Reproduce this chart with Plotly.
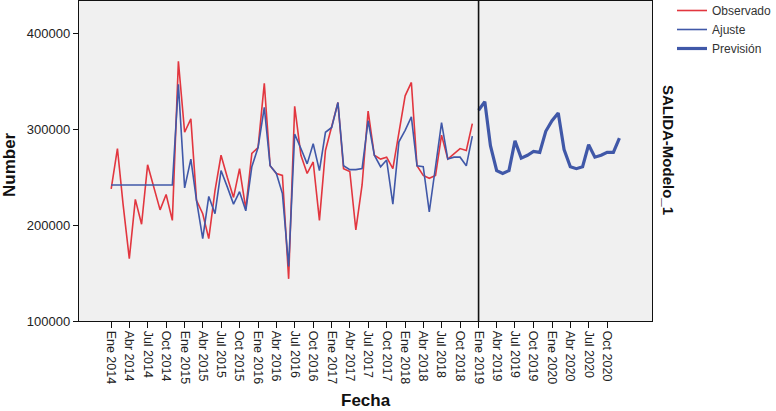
import plotly.graph_objects as go
import pandas as pd

# ---- data ----
obs_start = "2014-01-01"
fc_start = "2019-01-01"
observado = [238000, 280000, 222000, 165000, 227000, 201000, 263000, 240000, 216000, 232000, 205000, 371000,
             297000, 311000, 226000, 212000, 186000, 236000, 273000, 250000, 229000, 259000, 217000, 275000,
             281000, 348000, 262000, 254000, 252000, 144000, 324000, 273000, 254000, 266000, 205000, 278000,
             302000, 328000, 259000, 256000, 195000, 242000, 319000, 273000, 269000, 271000, 259000, 295000,
             335000, 349000, 262000, 252000, 249000, 252000, 294000, 269000, 275000, 280000, 278000, 306000]
ajuste = [242000, 242000, 242000, 242000, 242000, 242000, 242000, 242000, 242000, 242000, 242000, 347000,
          239000, 269000, 226000, 186000, 230000, 212000, 257000, 240000, 222000, 235000, 215000, 261000,
          281000, 323000, 262000, 254000, 233000, 157000, 295000, 280000, 264000, 285000, 257000, 297000,
          302000, 328000, 262000, 258000, 258000, 259000, 309000, 273000, 261000, 268000, 222000, 287000,
          299000, 313000, 262000, 261000, 214000, 261000, 307000, 269000, 271000, 271000, 262000, 293000]
prevision = [320000, 329000, 283000, 257000, 254000, 257000, 288000, 270000, 273000, 277000, 276000, 298000,
             309000, 317000, 279000, 261000, 259000, 261000, 284000, 271000, 273000, 276000, 276000, 291000]
month_names = ["Ene", "Feb", "Mar", "Abr", "May", "Jun", "Jul", "Ago", "Sep", "Oct", "Nov", "Dic"]
y_ticks = [100000, 200000, 300000, 400000]

obs_dates = pd.date_range(obs_start, periods=len(observado), freq="MS")
fc_dates = pd.date_range(fc_start, periods=len(prevision), freq="MS")
all_dates = obs_dates.append(fc_dates)
tick_dates = [d for d in all_dates if d.month in (1, 4, 7, 10)]
tick_text = [f"{month_names[d.month - 1]} {d.year}" for d in tick_dates]

RED = "#E2363F"
BLUE = "#4058A8"
FONT = "Liberation Sans, Arial, sans-serif"

fig = go.Figure()
fig.add_trace(go.Scatter(x=obs_dates, y=observado, mode="lines", name="Observado",
                         line=dict(color=RED, width=1.6)))
fig.add_trace(go.Scatter(x=obs_dates, y=ajuste, mode="lines", name="Ajuste",
                         line=dict(color=BLUE, width=1.6)))
fig.add_trace(go.Scatter(x=fc_dates, y=prevision, mode="lines", name="Previsión",
                         line=dict(color=BLUE, width=3.2)))

# reference line at forecast start
fig.add_shape(type="line", xref="x", yref="paper", x0=fc_dates[0], x1=fc_dates[0], y0=0, y1=1,
              line=dict(color="#111111", width=1.6))

x0 = all_dates[0] - pd.DateOffset(days=160)
x1 = all_dates[-1] + pd.DateOffset(days=162)

fig.update_xaxes(range=[x0, x1], tickvals=tick_dates, ticktext=tick_text, tickangle=90,
                 ticks="outside", ticklen=6, tickcolor="#111", showgrid=False, zeroline=False,
                 showline=True, linecolor="#111", linewidth=1.3, mirror=True, automargin=False,
                 tickfont=dict(family=FONT, size=12.5, color="#222"))
fig.update_yaxes(range=[100000, 434000], tickvals=y_ticks, ticktext=[str(v) for v in y_ticks],
                 ticks="outside", ticklen=5, tickcolor="#111", showgrid=False, zeroline=False,
                 showline=True, linecolor="#111", linewidth=1.3, mirror=True, automargin=False,
                 tickfont=dict(family=FONT, size=13, color="#222"))

L, R, T, B = 79, 124, 1, 90
W, H = 776, 411
pw, ph = W - L - R, H - T - B

def px(x):
    return (x - L) / pw

def py(y):
    return (H - B - y) / ph

fig.add_annotation(text="<b>Number</b>", x=px(9), y=py(165), xref="paper", yref="paper",
                   xanchor="center", yanchor="middle",
                   textangle=-90, showarrow=False, font=dict(family=FONT, size=17, color="#111"))
fig.add_annotation(text="<b>Fecha</b>", x=px(366), y=py(400), xref="paper", yref="paper",
                   xanchor="center", yanchor="middle",
                   showarrow=False, font=dict(family=FONT, size=17, color="#111"))
fig.add_annotation(text="<b>SALIDA-Modelo_1</b>", x=px(669), y=py(150), xref="paper", yref="paper",
                   xanchor="center", yanchor="middle",
                   textangle=90, showarrow=False, font=dict(family=FONT, size=15, color="#111"))

fig.update_layout(
    width=W, height=H,
    margin=dict(l=L, r=R, t=T, b=B, autoexpand=False),
    paper_bgcolor="white", plot_bgcolor="#F0F0F0",
    showlegend=True,
    legend=dict(x=px(672), y=py(-4), xanchor="left", yanchor="top", bgcolor="rgba(0,0,0,0)",
                font=dict(family=FONT, size=12, color="#333"), tracegroupgap=0,
                itemwidth=30),
)

fig.write_html("out.html", config={"displayModeBar": False},
               post_script="document.body.style.margin='0px';document.body.style.overflow='hidden';")
